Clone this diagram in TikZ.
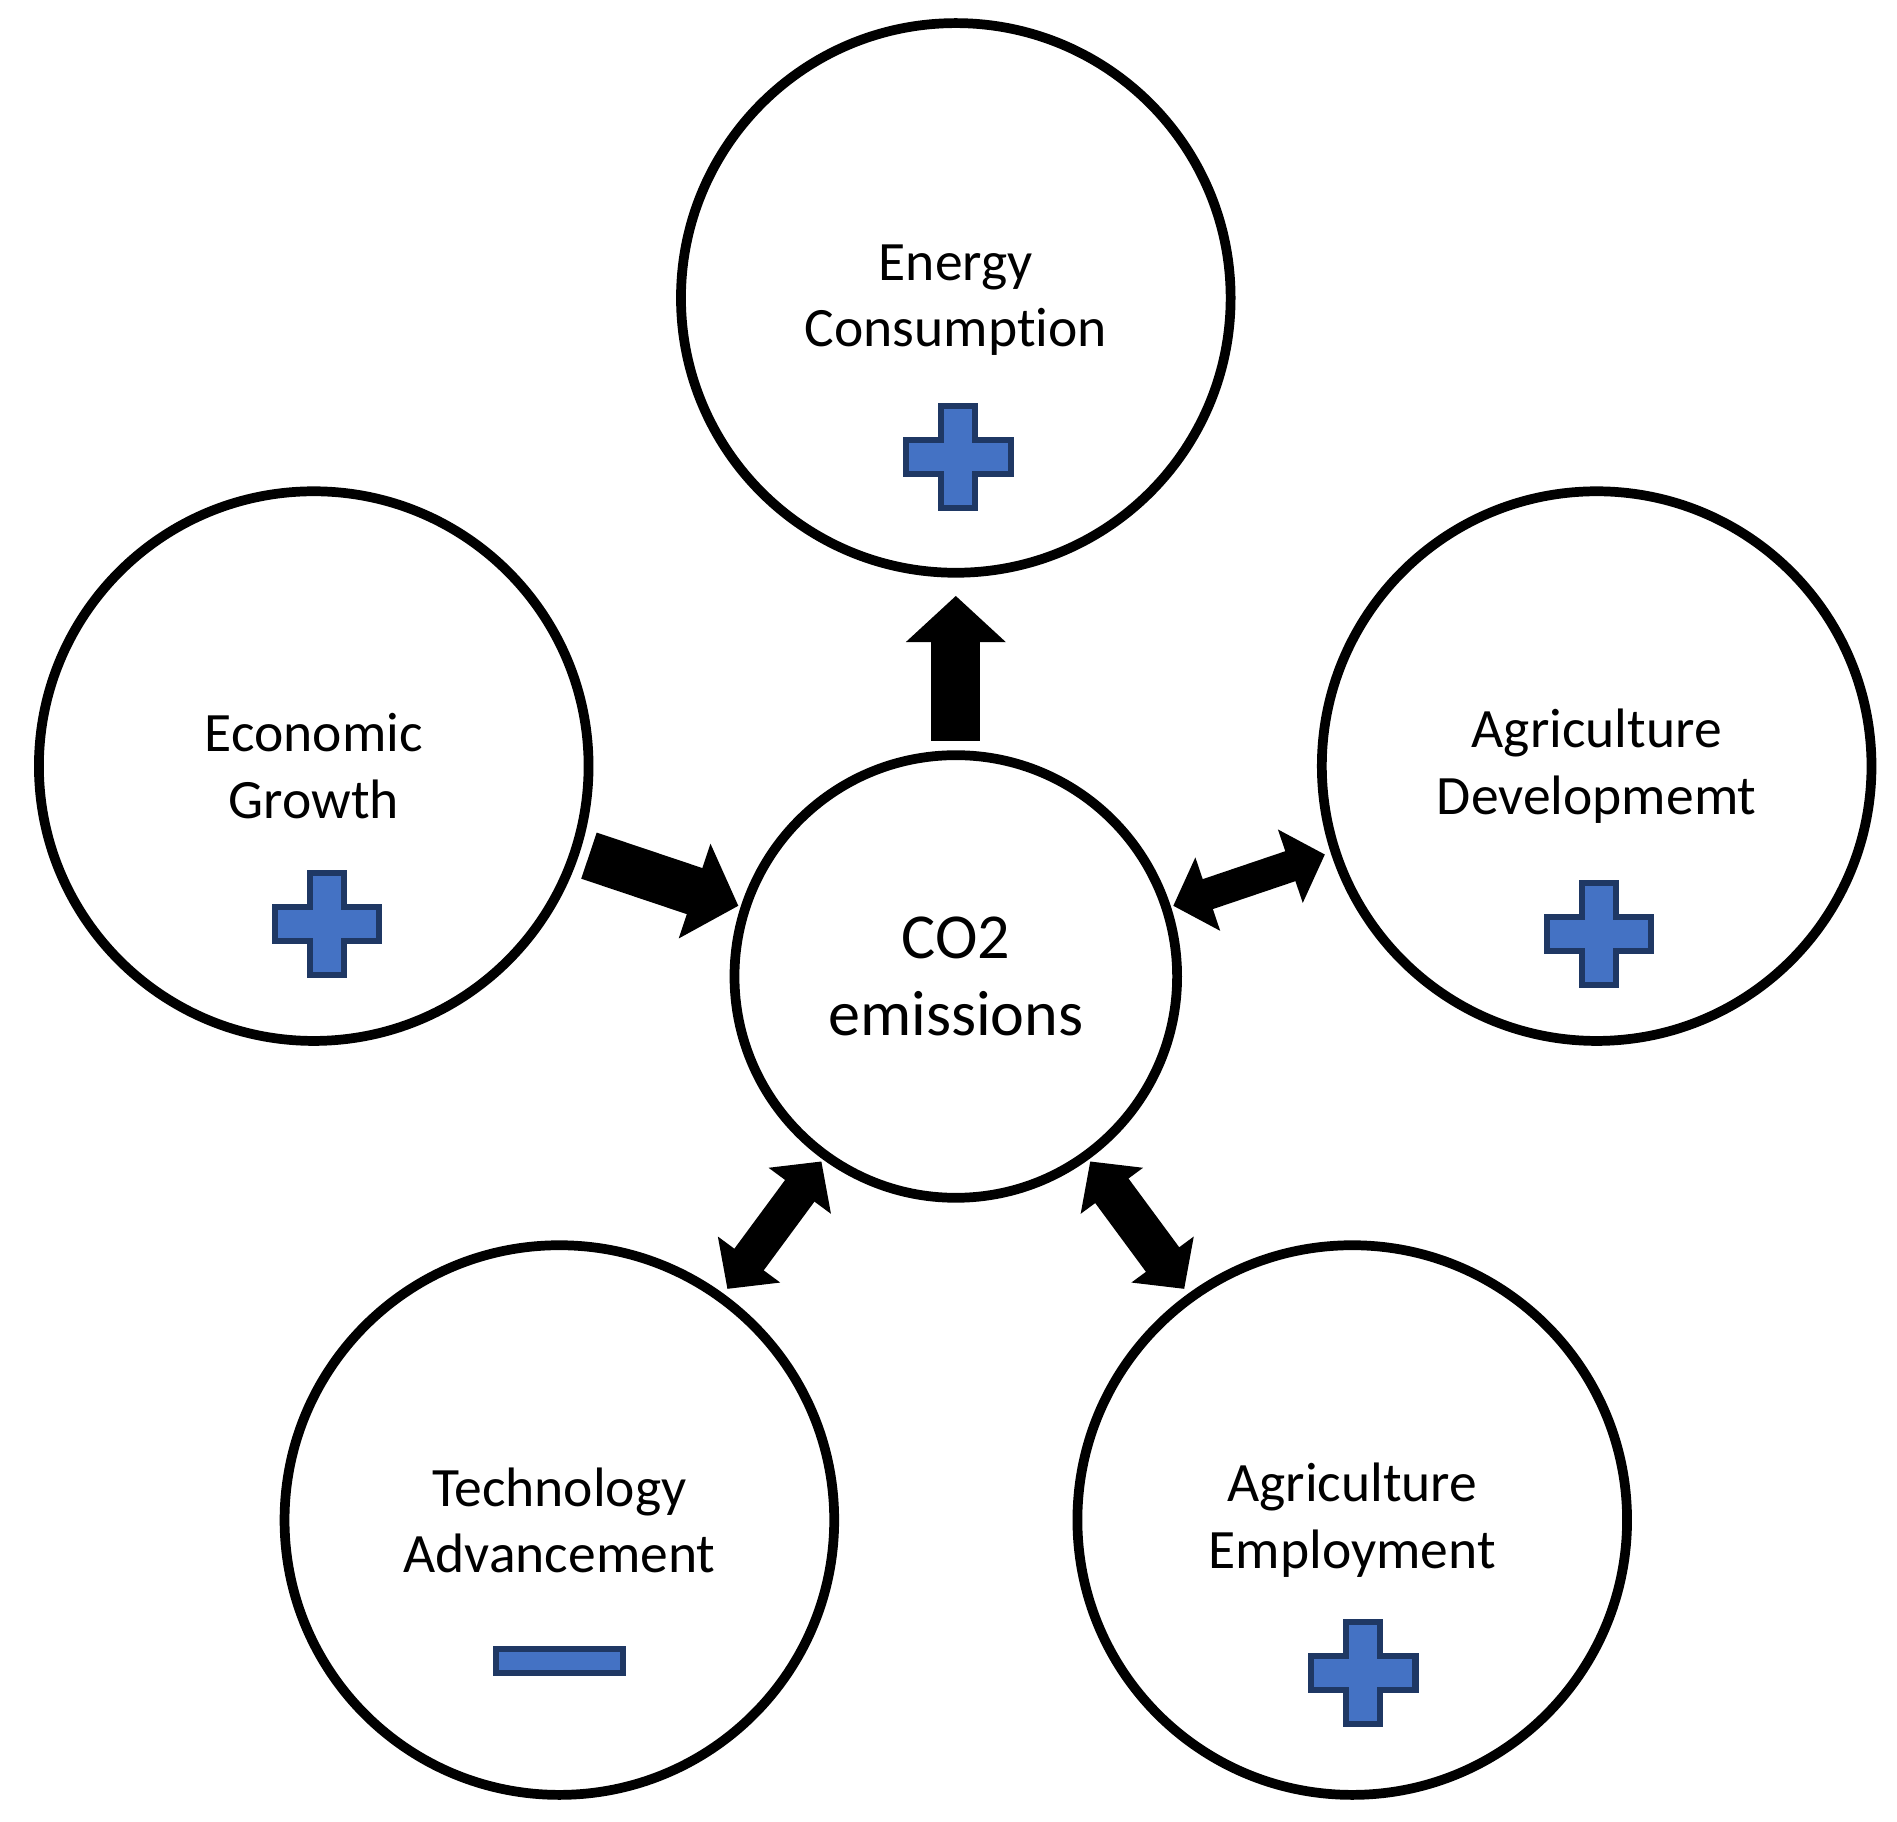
\documentclass[tikz,border=0pt]{standalone}
\usepackage{fontspec}
\setmainfont{Carlito}[RawFeature={-liga;-clig;-dlig}]
\usetikzlibrary{arrows.meta}
\definecolor{pfill}{HTML}{4472C4}
\definecolor{pline}{HTML}{1F3864}
\tikzset{
  bub/.style={circle,draw=black,line width=0.08cm,minimum size=4.52cm,inner sep=0pt,align=center,font=\fontsize{13}{15.5}\selectfont},
  bigarrow/.style={line width=0.4cm,-{Triangle[length=0.38cm,width=0.8cm]}},
  dblarrow/.style={line width=#1,{Triangle[length=0.3cm,width=0.62cm]}-{Triangle[length=0.3cm,width=0.62cm]}},
  sign/.style={fill=pfill,draw=pline,line width=0.05cm},
  pics/plussign/.style={code={
    \draw[sign] (-0.14,-0.42) -- (0.14,-0.42) -- (0.14,-0.14) -- (0.43,-0.14) -- (0.43,0.14) -- (0.14,0.14) -- (0.14,0.42) -- (-0.14,0.42) -- (-0.14,0.14) -- (-0.43,0.14) -- (-0.43,-0.14) -- (-0.14,-0.14) -- cycle;}}
}
\begin{document}
\begin{tikzpicture}[y=-1cm]
\useasboundingbox (0,0) rectangle (15.6,14.98);
\node[bub] (en) at (7.86,2.45) {};
\node[bub] (ec) at (2.58,6.30) {};
\node[bub] (ad) at (13.13,6.30) {};
\node[bub] (te) at (4.60,12.50) {};
\node[bub] (em) at (11.12,12.50) {};
\node[circle,draw=black,line width=0.08cm,minimum size=3.64cm,inner sep=0pt,align=center,font=\fontsize{15}{18}\selectfont] (co2) at (7.86,8.03) {CO2\\emissions};
\node[align=center,font=\fontsize{13}{15.5}\selectfont] (tEn) at (7.86,2.47) {Energy\\Consumpt\kern0pt ion};
\node[align=center,font=\fontsize{13}{15.5}\selectfont] (tEc) at (2.58,6.30) {Economic\\Growth};
\node[align=center,font=\fontsize{13}{15.5}\selectfont] (tAd) at (13.13,6.30) {Agriculture\\Developmemt};
\node[align=center,font=\fontsize{13}{15.5}\selectfont] (tTe) at (4.60,12.50) {Technology\\Advancement};
\node[align=center,font=\fontsize{13}{15.5}\selectfont] (tEm) at (11.12,12.50) {Agriculture\\Employment};
\pic at (7.88,3.76) {plussign};
\pic at (2.69,7.60) {plussign};
\pic at (13.15,7.68) {plussign};
\pic at (11.21,13.76) {plussign};
\draw[sign] (4.08,13.56) rectangle (5.12,13.76);
\draw[bigarrow,shorten <=0.08cm,shorten >=0.15cm] (co2.north) -- (en.south);
\draw[bigarrow,shorten <=0.08cm,shorten >=0.02cm] (ec.-18) -- (co2.162);
\draw[dblarrow=0.26cm,shorten <=0.02cm,shorten >=0.05cm] (co2.18) -- (ad.198);
\draw[dblarrow=0.3cm,shorten <=0.02cm,shorten >=0.05cm] (co2.234) -- (te.54);
\draw[dblarrow=0.34cm,shorten <=0.02cm,shorten >=0.05cm] (co2.306) -- (em.126);
\end{tikzpicture}
\end{document}
